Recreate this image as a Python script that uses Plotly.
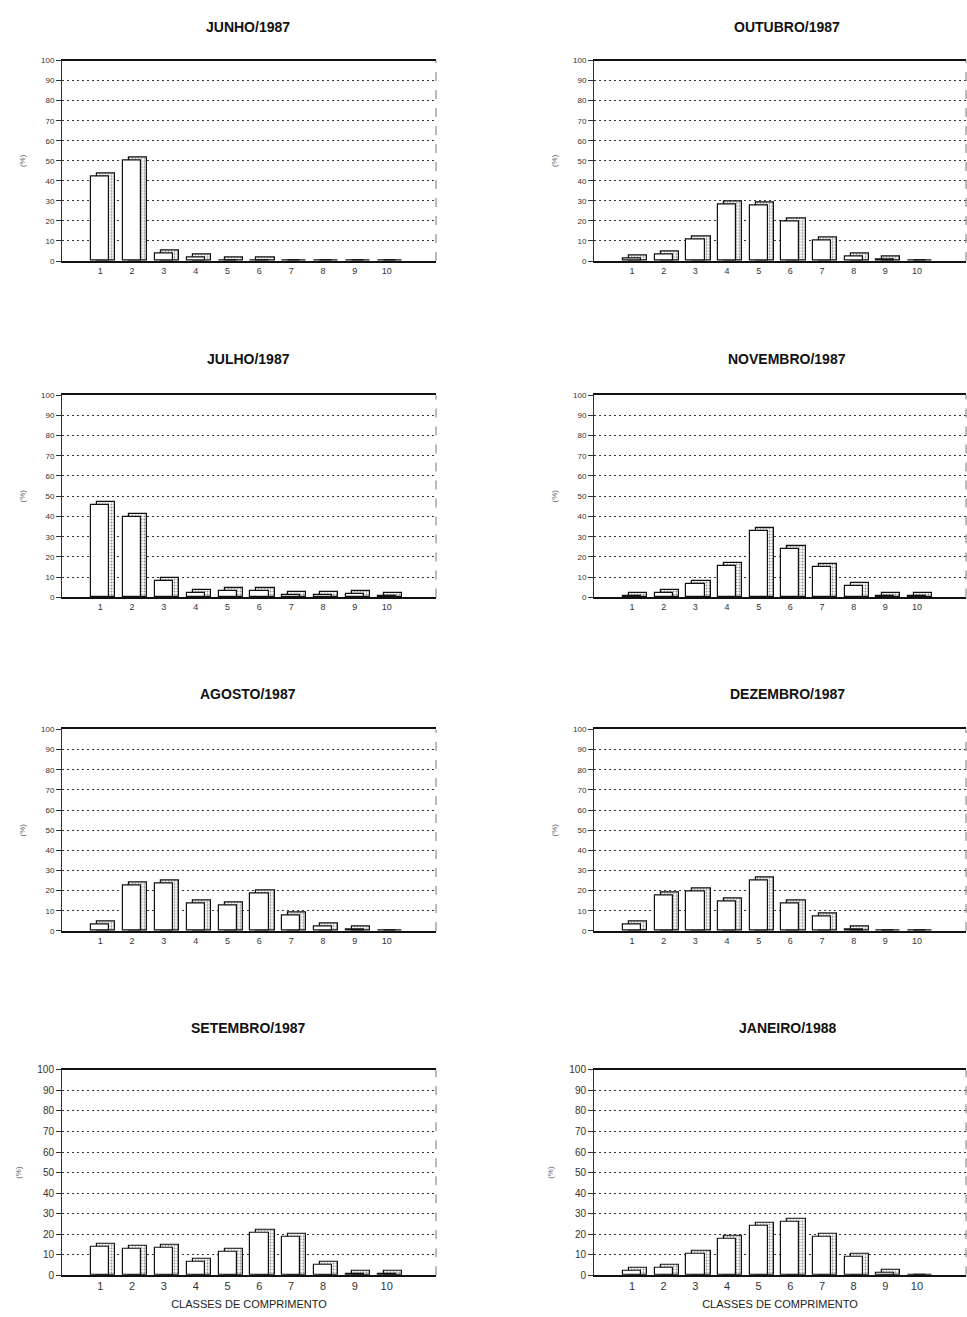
import plotly.graph_objects as go

classes = [1, 2, 3, 4, 5, 6, 7, 8, 9, 10]
class_labels = ["1", "2", "3", "4", "5", "6", "7", "8", "9", "10"]
y_ticks = [0, 10, 20, 30, 40, 50, 60, 70, 80, 90, 100]

titles = ["JUNHO/1987", "OUTUBRO/1987", "JULHO/1987", "NOVEMBRO/1987",
          "AGOSTO/1987", "DEZEMBRO/1987", "SETEMBRO/1987", "JANEIRO/1988"]

junho = [42, 50, 3.5, 1.5, 0.4, 0.3, 0, 0, 0, 0]
outubro = [1, 3, 10.5, 28, 27.5, 19.5, 10, 2, 0.5, 0]
julho = [45.5, 39.5, 8, 2, 3, 3, 1, 1, 1.5, 0.5]
novembro = [0.5, 2, 6.5, 15.5, 33, 24, 15, 5.5, 0.5, 0.5]
agosto = [3, 22.5, 23.5, 13.5, 12.5, 18.5, 7.5, 2, 0.5, 0]
dezembro = [3, 17.5, 19.5, 14.5, 25, 13.5, 7, 0.5, 0, 0]
setembro = [14, 13, 13.5, 6.5, 11.5, 20.5, 18.5, 5, 0.5, 0.5]
janeiro = [2, 3.5, 10.5, 17.5, 24, 26, 18.5, 9, 1, 0]

series = [junho, outubro, julho, novembro, agosto, dezembro, setembro, janeiro]

# layout geometry (paper fractions)
W, H = 967, 1317
x_doms = [[62 / W, 436 / W], [594 / W, 0.999]]
row_px = [(56, 258), (393, 597), (730, 933), (1073, 1280)]
title_y = [22, 357, 694, 1031]
title_x = [248, 787]

CAP = 1.5          # 3D cap depth in data units
SIDE = 0.19        # 3D side depth in class units
FRONT_W = 0.57

fig = go.Figure()
layout = dict(
    width=W, height=H, margin=dict(l=0, r=0, t=0, b=0),
    paper_bgcolor="white", plot_bgcolor="white", showlegend=False,
    font=dict(family="Liberation Sans, Arial, sans-serif", color="#222"),
    bargap=0, barmode="overlay",
)
annotations = []
shapes = []

for i, (title, vals) in enumerate(zip(titles, series)):
    r, c = divmod(i, 2)
    n = i + 1
    xa = "x" if n == 1 else f"x{n}"
    ya = "y" if n == 1 else f"y{n}"
    top, bot = row_px[r]
    ydom = [1 - bot / H, 1 - top / H]

    back = [v + CAP if v > 0 else 0 for v in vals]
    fig.add_trace(go.Bar(
        x=classes, y=back, xaxis=xa, yaxis=ya,
        width=FRONT_W, offset=-0.28 + SIDE,
        marker=dict(color="white",
                    line=dict(color="#111", width=1.2),
                    pattern=dict(shape=".", fgcolor="#222", bgcolor="white",
                                 size=3, solidity=0.35)),
        hoverinfo="skip",
    ))
    fig.add_trace(go.Bar(
        x=classes, y=vals, xaxis=xa, yaxis=ya,
        width=FRONT_W, offset=-0.28,
        marker=dict(color="white", line=dict(color="#111", width=1.2)),
        name=title,
    ))

    xkey = "xaxis" if n == 1 else f"xaxis{n}"
    ykey = "yaxis" if n == 1 else f"yaxis{n}"
    layout[xkey] = dict(
        domain=x_doms[c], anchor=ya, range=[-0.2, 11.55],
        tickvals=classes, ticktext=class_labels,
        showline=True, linecolor="#111", linewidth=2, mirror=True,
        ticks="", showgrid=False, zeroline=False,
        tickfont=dict(size=9 if r < 3 else 11, color="#333"),
        fixedrange=True,
    )
    if r == 3:
        layout[xkey]["title"] = dict(text="CLASSES DE COMPRIMENTO",
                                     font=dict(size=11, color="#222"),
                                     standoff=9)
    layout[ykey] = dict(
        domain=ydom, anchor=xa, range=[0, 100],
        tickvals=y_ticks, ticktext=[str(t) for t in y_ticks],
        showline=True, linecolor="#333", linewidth=1,
        ticks="outside", ticklen=5, tickcolor="#333",
        showgrid=True, gridcolor="#333", griddash="2px,3px", gridwidth=1,
        zeroline=False,
        tickfont=dict(size=8 if r < 3 else 10, color="#333"),
        title=dict(text="(%)", font=dict(size=8, color="#666"), standoff=14),
        fixedrange=True,
    )
    annotations.append(dict(
        text=f"<b>{title}</b>", x=title_x[c] / W, y=1 - title_y[r] / H,
        xref="paper", yref="paper", showarrow=False,
        xanchor="center", yanchor="middle",
        font=dict(size=14, color="#111", family="Liberation Sans, Arial, sans-serif"),
    ))
    shapes.append(dict(
        type="line", xref=f"{xa} domain", yref=f"{ya} domain",
        x0=1, x1=1, y0=0, y1=1,
        line=dict(color="#777", width=1, dash="dash"),
    ))

layout["annotations"] = annotations
layout["shapes"] = shapes
fig.update_layout(**layout)
fig.write_html("out.html")
